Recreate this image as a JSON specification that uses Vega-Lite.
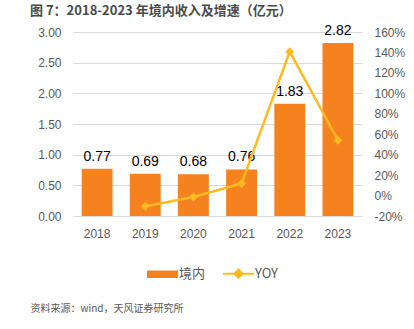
{
  "$schema": "https://vega.github.io/schema/vega-lite/v6.json",
  "width": 289,
  "height": 184,
  "autosize": {"type": "none"},
  "padding": {"left": 73, "top": 32, "right": 52, "bottom": 113},
  "background": "white",
  "config": {
    "font": "Liberation Sans",
    "view": {"stroke": null},
    "axis": {"labelFont": "Liberation Sans", "labelColor": "#595959", "labelFontSize": 12}
  },
  "title": {
    "text": "图 7：2018-2023 年境内收入及增速（亿元）",
    "anchor": "start",
    "frame": "group",
    "dx": -43,
    "offset": 6,
    "font": "Noto Sans CJK SC",
    "fontSize": 13,
    "fontWeight": "bold",
    "color": "#4a4a4a"
  },
  "data": {
    "values": [
      {"year": "2018", "income": 0.77, "yoy": null},
      {"year": "2019", "income": 0.69, "yoy": -10.4},
      {"year": "2020", "income": 0.68, "yoy": -1.4},
      {"year": "2021", "income": 0.76, "yoy": 11.8},
      {"year": "2022", "income": 1.83, "yoy": 140.8},
      {"year": "2023", "income": 2.82, "yoy": 54.1}
    ]
  },
  "encoding": {
    "x": {
      "field": "year",
      "type": "ordinal",
      "scale": {"paddingInner": 0.36, "paddingOuter": 0.18},
      "axis": {
        "labelAngle": 0,
        "domain": false,
        "ticks": false,
        "labelPadding": 12,
        "title": "资料来源：wind，天风证券研究所",
        "titleFont": "Noto Sans CJK SC",
        "titleFontSize": 10,
        "titleFontWeight": "normal",
        "titleColor": "#595959",
        "titleAnchor": "start",
        "titleAlign": "left",
        "titleBaseline": "middle",
        "titleX": -43,
        "titleY": 92
      }
    }
  },
  "layer": [
    {
      "layer": [
        {
          "mark": {"type": "bar", "color": "#F5821F"},
          "encoding": {
            "color": {
              "datum": "境内",
              "type": "nominal",
              "scale": {"domain": ["境内", "YOY"], "range": ["#F5821F", "#FDBA21"]},
              "legend": {
                "orient": "none",
                "direction": "horizontal",
                "legendX": 78,
                "legendY": 230,
                "title": null,
                "labelFont": "Noto Sans CJK SC",
                "labelFontSize": 13,
                "labelColor": "#595959",
                "symbolSize": 430,
                "columnPadding": 12,
                "labelOffset": 5,
                "encode": {
                  "symbols": {
                    "update": {
                      "shape": {"signal": "datum.value === '境内' ? 'M-1.5,-0.35H1.5V0.35H-1.5Z' : 'M-1.5,0H1.5M0,-0.4L0.4,0L0,0.4L-0.4,0Z'"},
                      "fill": {"signal": "datum.value === '境内' ? '#F5821F' : '#FDBA21'"},
                      "stroke": {"signal": "datum.value === '境内' ? null : '#FDBA21'"},
                      "strokeWidth": {"value": 2},
                      "opacity": {"value": 1}
                    }
                  }
                }
              }
            }
          }
        },
        {
          "mark": {"type": "text", "dy": -12, "fontSize": 14, "color": "#000000", "font": "Liberation Sans"},
          "encoding": {
            "text": {"field": "income", "type": "quantitative", "format": ".2f"}
          }
        }
      ],
      "encoding": {
        "y": {
          "field": "income",
          "type": "quantitative",
          "scale": {"domain": [0, 3]},
          "axis": {
            "values": [0, 0.5, 1, 1.5, 2, 2.5, 3],
            "format": ".2f",
            "title": null,
            "domain": false,
            "ticks": false,
            "labelPadding": 12,
            "grid": true,
            "gridColor": "#d9d9d9",
            "gridWidth": 1
          }
        }
      }
    },
    {
      "transform": [{"filter": "datum.yoy != null"}],
      "mark": {"type": "line", "color": "#FDBA21", "strokeWidth": 2.5, "point": {"shape": "diamond", "filled": true, "size": 80, "color": "#FDBA21"}},
      "encoding": {
        "y": {
          "field": "yoy",
          "type": "quantitative",
          "scale": {"domain": [-20, 160]},
          "axis": {
            "orient": "right",
            "values": [-20, 0, 20, 40, 60, 80, 100, 120, 140, 160],
            "labelExpr": "datum.value + '%'",
            "title": null,
            "domain": false,
            "ticks": false,
            "grid": false,
            "labelPadding": 12
          }
        }
      }
    }
  ],
  "resolve": {"scale": {"y": "independent"}}
}
